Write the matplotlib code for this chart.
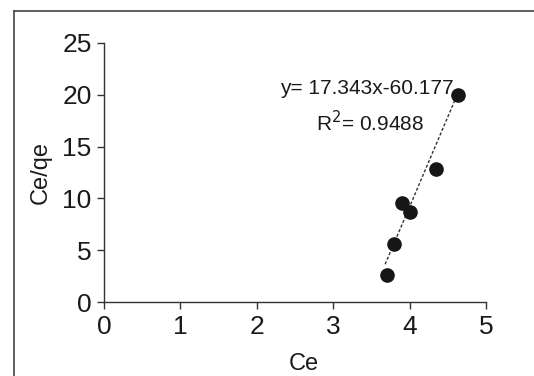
import numpy as np
import matplotlib.pyplot as plt
from matplotlib.lines import Line2D

# Ce vs Ce/qe, linear isotherm fit
ce = [3.70, 3.80, 3.90, 4.01, 4.34, 4.63]
ce_qe = [2.6, 5.6, 9.6, 8.7, 12.8, 20.0]
slope, intercept = 17.343, -60.177
fit_x = np.array([3.68, 4.64])

plt.rcParams['font.family'] = ['Liberation Sans', 'DejaVu Sans']

fig = plt.figure(figsize=(5.34, 3.76), dpi=100)
ax = fig.add_axes([104 / 534, 1 - 302 / 376, 382 / 534, 259 / 376])

ax.plot(fit_x, slope * fit_x + intercept, ls=(0, (2.2, 1.4)), lw=1.0,
        color='#333333', zorder=2)
ax.plot(ce, ce_qe, 'o', ms=9.5, color='#161616', zorder=3)

ax.set_xlim(0, 5)
ax.set_ylim(0, 25)
ax.set_xticks(range(0, 6))
ax.set_yticks(range(0, 26, 5))
for s in ['top', 'right']:
    ax.spines[s].set_visible(False)
for s in ['left', 'bottom']:
    ax.spines[s].set_color('#333333')
    ax.spines[s].set_linewidth(1.0)
ax.tick_params(direction='out', length=5, width=1.0, color='#333333',
               labelsize=19, labelcolor='#1a1a1a', pad=4)

ax.set_xlabel('Ce', fontsize=17, color='#1a1a1a')
ax.set_ylabel('Ce/qe', fontsize=17, color='#1a1a1a')
ax.xaxis.set_label_coords((304 - 104) / 382, -0.195)
ax.yaxis.set_label_coords((52 - 104) / 382, 0.5)

ax.text(4.57, 20.6, 'y= 17.343x-60.177', ha='right', va='center',
        fontsize=15, color='#1a1a1a')
ax.text(3.48, 17.3, 'R$^2$= 0.9488', ha='center', va='center',
        fontsize=15, color='#1a1a1a')

# outer frame (left and top edges visible)
fig.add_artist(Line2D([14 / 534, 14 / 534], [0, 1 - 11 / 376],
                      transform=fig.transFigure, color='#444444', lw=1.2))
fig.add_artist(Line2D([14 / 534, 1], [1 - 11 / 376, 1 - 11 / 376],
                      transform=fig.transFigure, color='#444444', lw=1.2))

fig.savefig('out.png', dpi=100)
